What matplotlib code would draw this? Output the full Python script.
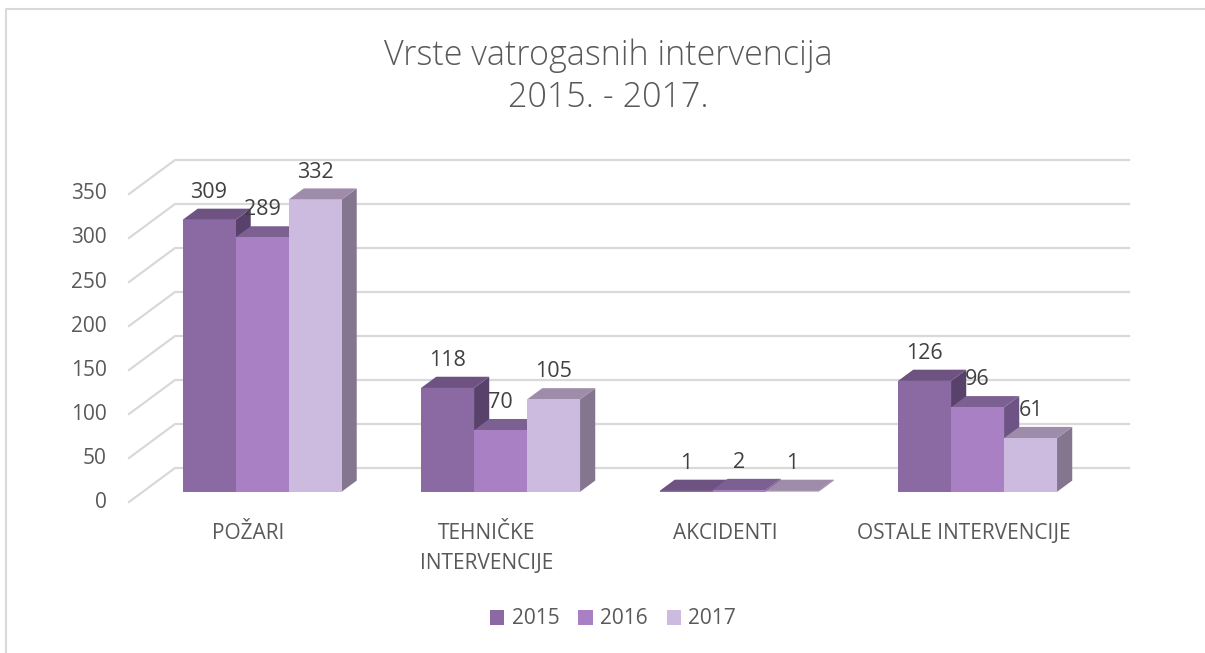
import numpy as np
import matplotlib.pyplot as plt
from matplotlib.patches import Polygon, Patch
from matplotlib.lines import Line2D

plt.rcParams['font.family'] = ['Open Sans', 'DejaVu Sans']

categories = ['POŽARI', 'TEHNIČKE\nINTERVENCIJE', 'AKCIDENTI', 'OSTALE INTERVENCIJE']
years = ['2015', '2016', '2017']
values = {
    '2015': [309, 118, 1, 126],
    '2016': [289, 70, 2, 96],
    '2017': [332, 105, 1, 61],
}
yticks = [0, 50, 100, 150, 200, 250, 300, 350]

# front / top / side colours for each series
front_col = ['#8B6AA4', '#AA80C4', '#CDBBDF']
top_col = ['#6E5282', '#7C6092', '#9E8CAA']
side_col = ['#58426C', '#6E5484', '#84768E']

grid_col = '#d9d9d9'
text_col = '#595959'

W, H = 1205, 653
fig = plt.figure(figsize=(W / 100, H / 100), dpi=100)

# front plane of the plot: x 129..1083 px, value 0 at y=502 px, 350 at y=194 px
ax = fig.add_axes([129 / W, (H - 502) / H, 954 / W, 308 / H])
ax.set_xlim(0, len(categories))
ax.set_ylim(0, 350)
ax.axis('off')

# oblique depth offset for a full depth step (in data units)
DX = 46 / 238.5
DY = 34 / 0.88


def shift(x, y, d):
    return (x + d * DX, y + d * DY)


# back wall grid + diagonal floor lines
for v in yticks:
    p0 = shift(0, v, 0)
    p1 = shift(0, v, 1)
    p2 = shift(len(categories), v, 1)
    ax.add_line(Line2D([p0[0], p1[0], p2[0]], [p0[1], p1[1], p2[1]],
                       color=grid_col, lw=1.6, clip_on=False, zorder=1))
    ax.annotate(str(v), (0, v), xytext=(-22, 0), textcoords='offset pixels',
                ha='right', va='center', fontsize=15, color=text_col)

# bars
bw = 53 / 238.5
d0, d1 = 0.3, 0.63
for i, cat in enumerate(categories):
    for j, yr in enumerate(years):
        v = values[yr][i]
        xl = i + 0.5 - 1.5 * bw + j * bw
        xr = xl + bw
        front = [shift(xl, 0, d0), shift(xr, 0, d0), shift(xr, v, d0), shift(xl, v, d0)]
        top = [shift(xl, v, d0), shift(xr, v, d0), shift(xr, v, d1), shift(xl, v, d1)]
        side = [shift(xr, 0, d0), shift(xr, 0, d1), shift(xr, v, d1), shift(xr, v, d0)]
        z = 2 + i * 3 + j
        ax.add_patch(Polygon(side, closed=True, fc=side_col[j], ec='none', clip_on=False, zorder=z))
        ax.add_patch(Polygon(top, closed=True, fc=top_col[j], ec='none', clip_on=False, zorder=z))
        ax.add_patch(Polygon(front, closed=True, fc=front_col[j], ec='none', clip_on=False, zorder=z))
        cx, cy = shift((xl + xr) / 2, v, d0)
        ax.annotate(str(v), (cx, cy), xytext=(0, 17), textcoords='offset pixels',
                    ha='center', va='bottom', fontsize=15.5, color='#404040', zorder=20)

# category labels
for i, cat in enumerate(categories):
    ax.annotate(cat, (i + 0.5, 0), xytext=(0, -21), textcoords='offset pixels',
                ha='center', va='top', fontsize=15, color=text_col, linespacing=1.55)

# title
fig.text(608 / W, 1 - 77 / H, 'Vrste vatrogasnih intervencija\n2015. - 2017.',
         ha='center', va='center', fontsize=24.5, color=text_col, linespacing=1.3,
         fontweight='light')

# legend
handles = [Patch(fc=front_col[j], ec='none', label=yr) for j, yr in enumerate(years)]
fig.legend(handles=handles, loc='center', bbox_to_anchor=(613 / W, 1 - 619 / H),
           ncol=3, frameon=False, fontsize=15, handlelength=0.7, handleheight=0.7,
           handletextpad=0.35, columnspacing=0.9, labelcolor=text_col)

# chart frame (runs off the right and bottom edges)
fig.add_artist(Line2D([6 / W, 6 / W, 1], [0, 1 - 9 / H, 1 - 9 / H],
                      transform=fig.transFigure, color=grid_col, lw=1.5))

fig.savefig('out.png', dpi=100)
